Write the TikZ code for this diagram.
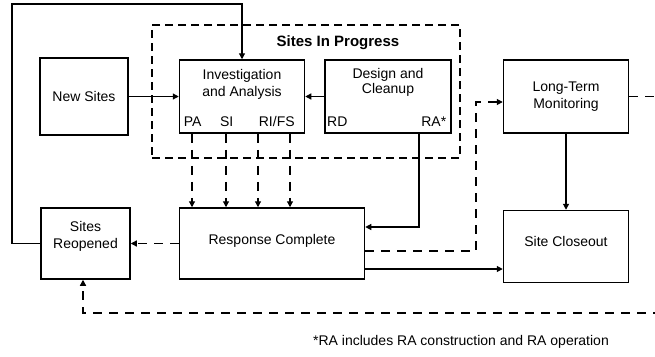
\documentclass[tikz,border=0pt]{standalone}
\usepackage{fontspec}
\setmainfont{Liberation Sans}
\usetikzlibrary{arrows.meta,positioning}

\begin{document}
\begin{tikzpicture}[
    x=1pt, y=-1pt,
    node distance=50pt and 50pt,
    box/.style={rectangle, draw=black, line width=1.5pt, fill=white, minimum width=125pt, minimum height=73pt, inner sep=0pt, align=center, font=\fontsize{14}{16.5}\selectfont},
    txt/.style={align=center, inner sep=0pt, font=\fontsize{14}{16.5}\selectfont},
    framebox/.style={rectangle, draw=black, line width=2.6pt, dash pattern=on 8pt off 5pt, minimum width=308pt, minimum height=133pt},
    arrow/.style={-{Triangle[length=6pt,width=6pt]}, line width=1.2pt, draw=black},
    darrow/.style={arrow, dash pattern=on 9pt off 7pt}
]
\useasboundingbox (0,0) rectangle (655,356);
\clip (0,0) rectangle (655,356);

% Nodes
\node[framebox] (progress) at (306,91.5) {};
\node[txt, font=\fontsize{15}{17}\selectfont\bfseries] (progresstxt) at (338,43) {Sites In Progress};

\node[box, minimum width=88pt, minimum height=77pt] (newsites) at (84,96.5) {New Sites};
\node[box, right=50pt of newsites] (invest) {};
\node[box, minimum width=126pt, right=19pt of invest] (design) {};
\node[box, right=51pt of design] (ltm) {Long-Term\\Monitoring};

\node[txt] (investtxt) at ([yshift=-25pt]invest.north) {Investigation\\and Analysis};
\node[txt, font=\fontsize{14}{15}\selectfont] (designtxt) at ([yshift=-23pt]design.north) {Design and\\Cleanup};
\node[txt] (pa) at ([xshift=14pt,yshift=12pt]invest.south west) {PA};
\node[txt] (si) at ([xshift=48pt,yshift=12pt]invest.south west) {SI};
\node[txt] (rifs) at ([xshift=98pt,yshift=12pt]invest.south west) {RI/FS};
\node[txt] (rd) at ([xshift=13pt,yshift=12pt]design.south west) {RD};
\node[txt] (ra) at ([xshift=-18pt,yshift=12pt]design.south east) {RA*};

\node[box, minimum width=89pt, minimum height=71pt] (reopened) at (85.5,243.5) {};
\node[txt] (reopenedtxt) at ([yshift=7pt]reopened.center) {Sites\\Reopened};
\node[box, minimum width=185pt, minimum height=71pt, right=48pt of reopened] (respcomp) {};
\node[txt] (respcomptxt) at ([yshift=3pt]respcomp.center) {Response Complete};
\node[box, minimum height=72pt, below=76pt of ltm] (closeout) {};
\node[txt] (closeouttxt) at ([yshift=5pt]closeout.center) {Site Closeout};

\node[txt] (note) at (461,342) {*RA includes RA construction and RA operation};

\coordinate (top) at (12,4);
\coordinate (back) at (83,313);
\coordinate (turn) at (476,102);

% Edges
\draw[arrow] (reopened.west) -| (top) -| (invest.north);
\draw[arrow] (newsites.east) -- (invest.west);
\draw[arrow] (design.west) -- (invest.east);
\foreach \x in {192,226,258,290}
    \draw[darrow] (\x,0 |- invest.south) -- (\x,0 |- respcomp.north);
\draw[arrow] (419,0 |- design.south) |- ([yshift=16.5pt]respcomp.east);
\draw[darrow] (respcomp.west) -- (reopened.east);
\draw[darrow] ([yshift=-7.5pt]respcomp.east) -| (turn) -- (ltm.west |- turn);
\draw[arrow] ([yshift=-25.5pt]respcomp.east) -- (closeout.west |- 0,269);
\draw[arrow] (ltm.south) -- (closeout.north);
\draw[darrow] (ltm.east) -- ++(36,0) |- (back) -- (back |- reopened.south);

\end{tikzpicture}
\end{document}
